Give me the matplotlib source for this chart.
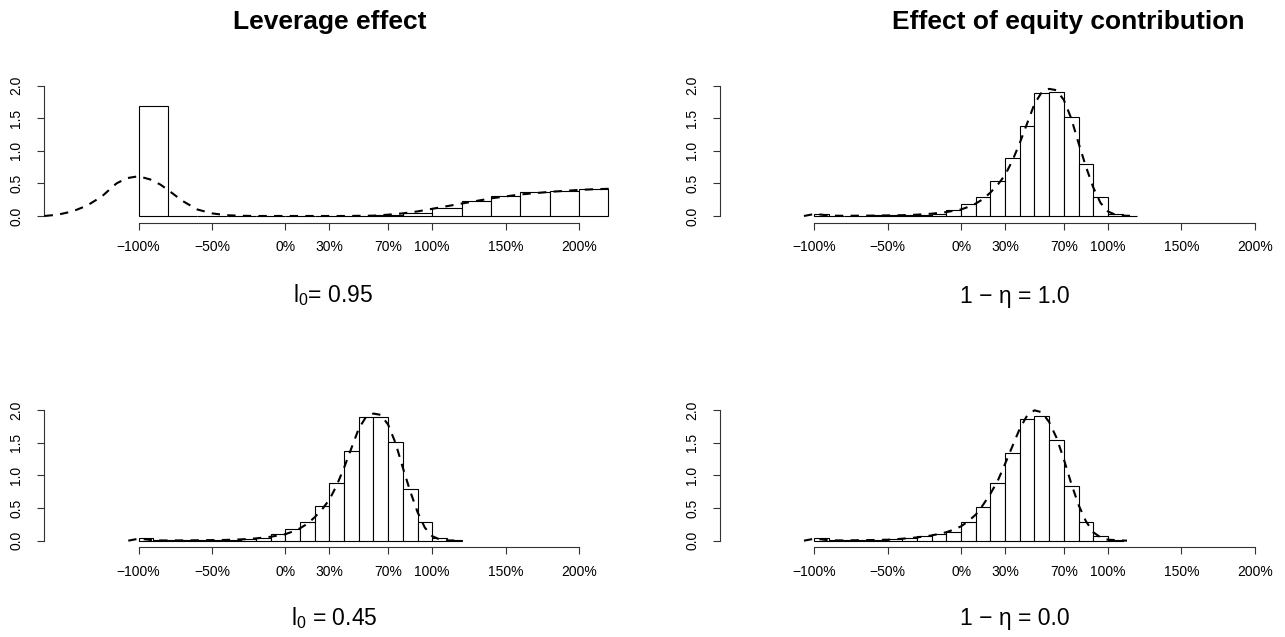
import numpy as np
import matplotlib
matplotlib.use('Agg')
import matplotlib.pyplot as plt

plt.rcParams['font.family'] = ['Liberation Sans', 'DejaVu Sans']
plt.rcParams['mathtext.fontset'] = 'custom'
plt.rcParams['mathtext.rm'] = 'Liberation Sans'
plt.rcParams['mathtext.it'] = 'Liberation Sans'

# histogram bin edges (return in %)
edges_20 = [-100, -80, -60, -40, -20, 0, 20, 40, 60, 80, 100, 120, 140, 160, 180, 200, 220]
edges_10 = [-100, -90, -80, -70, -60, -50, -40, -30, -20, -10, 0, 10, 20, 30, 40, 50,
            60, 70, 80, 90, 100, 110, 120]

# leverage l0 = 0.95
lev95_hist = [1.69, 0.0, 0.0, 0.0, 0.0, 0.0, 0.0, 0.003, 0.013, 0.04, 0.125, 0.235,
              0.31, 0.365, 0.378, 0.42]
lev95_dens_x = [-164, -155, -145, -135, -125, -115, -108, -100, -92, -85, -80, -70, -60,
                -50, -40, -30, -20, 0, 20, 40, 60, 70, 80, 90, 100, 110, 120, 130, 140,
                150, 160, 170, 180, 190, 200, 210, 225]
lev95_dens_y = [0.0, 0.02, 0.07, 0.16, 0.30, 0.50, 0.58, 0.61, 0.56, 0.48, 0.40, 0.23,
                0.10, 0.04, 0.012, 0.003, 0.0, 0.0, 0.0, 0.0, 0.005, 0.02, 0.04, 0.07,
                0.11, 0.15, 0.19, 0.23, 0.27, 0.30, 0.33, 0.35, 0.37, 0.385, 0.40, 0.41,
                0.42]

# leverage l0 = 0.45  /  equity 1-eta = 1.0
lev45_hist = [0.035, 0.003, 0.003, 0.005, 0.008, 0.01, 0.012, 0.02, 0.035, 0.095, 0.18,
              0.29, 0.535, 0.89, 1.38, 1.89, 1.90, 1.515, 0.795, 0.29, 0.035, 0.005]
lev45_dens_x = [-107, -100, -95, -90, -80, -60, -40, -30, -20, -10, 0, 5, 10, 15, 20, 25,
                30, 35, 40, 45, 50, 55, 60, 65, 70, 75, 80, 85, 90, 95, 100, 105, 110, 120]
lev45_dens_y = [0.0, 0.03, 0.02, 0.005, 0.003, 0.006, 0.012, 0.02, 0.035, 0.06, 0.10,
                0.14, 0.19, 0.26, 0.36, 0.48, 0.63, 0.85, 1.12, 1.42, 1.72, 1.90, 1.95,
                1.93, 1.78, 1.50, 1.12, 0.76, 0.44, 0.20, 0.07, 0.02, 0.005, 0.0]

eq10_hist = lev45_hist
eq10_dens_x = lev45_dens_x
eq10_dens_y = lev45_dens_y

# equity 1-eta = 0.0
eq00_hist = [0.035, 0.005, 0.005, 0.008, 0.015, 0.025, 0.04, 0.066, 0.11, 0.14, 0.286,
             0.51, 0.88, 1.34, 1.86, 1.92, 1.55, 0.84, 0.28, 0.066, 0.01]
eq00_dens_x = [-107, -100, -95, -90, -80, -60, -50, -40, -30, -20, -10, -5, 0, 5, 10, 15,
               20, 25, 30, 35, 40, 45, 50, 55, 60, 65, 70, 75, 80, 85, 90, 95, 100, 113]
eq00_dens_y = [0.0, 0.03, 0.02, 0.005, 0.004, 0.01, 0.015, 0.03, 0.05, 0.08, 0.13, 0.17,
               0.22, 0.30, 0.40, 0.55, 0.72, 0.92, 1.18, 1.45, 1.72, 1.92, 2.0, 1.97,
               1.82, 1.58, 1.25, 0.88, 0.55, 0.30, 0.13, 0.05, 0.015, 0.0]

xticks = [-100, -50, 0, 30, 70, 100, 150, 200]
xticklabels = [f'{t}%'.replace('-', '\u2212') for t in xticks]
yticks = [0.0, 0.5, 1.0, 1.5, 2.0]

W, H = 1285, 637
fig = plt.figure(figsize=(W / 100, H / 100), dpi=100)


def px_axes(x0, x1, ybot, ytop):
    return fig.add_axes([x0 / W, 1 - ybot / H, (x1 - x0) / W, (ybot - ytop) / H])


def panel(ax, edges, hist, dx, dy):
    e = np.array(edges[:len(hist) + 1], dtype=float)
    ax.bar(e[:-1], hist, width=np.diff(e), align='edge', facecolor='white',
           edgecolor='black', linewidth=0.8, zorder=2)
    ax.plot(dx, dy, color='black', linewidth=1.5, linestyle=(0, (4, 3.5)), zorder=3)
    ax.set_xlim(-164.4, 225.2)
    ax.set_ylim(-0.1, 2.6)
    for s in ['top', 'right']:
        ax.spines[s].set_visible(False)
    ax.spines['left'].set_bounds(0, 2)
    ax.spines['bottom'].set_bounds(-100, 200)
    for s in ['left', 'bottom']:
        ax.spines[s].set_linewidth(0.8)
        ax.spines[s].set_color('#333333')
    ax.set_xticks(xticks)
    ax.set_xticklabels(xticklabels)
    ax.set_yticks(yticks)
    ax.set_yticklabels([f'{v:.1f}' for v in yticks], rotation=90, va='center')
    ax.tick_params(axis='x', length=4.8, width=0.8, color='#333333', pad=8, labelsize=10)
    ax.tick_params(axis='y', length=4.8, width=0.8, color='#333333', pad=10, labelsize=10)


ax1 = px_axes(44, 616, 222.5, 46.5)
panel(ax1, edges_20, lev95_hist, lev95_dens_x, lev95_dens_y)
ax2 = px_axes(719.7, 1291.7, 222.5, 46.5)
panel(ax2, edges_10, eq10_hist, eq10_dens_x, eq10_dens_y)
ax3 = px_axes(44, 616, 547.2, 371.2)
panel(ax3, edges_10, lev45_hist, lev45_dens_x, lev45_dens_y)
ax4 = px_axes(719.7, 1291.7, 547.2, 371.2)
panel(ax4, edges_10, eq00_hist, eq00_dens_x, eq00_dens_y)

fig.text(330 / W, 1 - 28.5 / H, 'Leverage effect', ha='center', va='baseline',
         fontsize=19, fontweight='bold')
fig.text(1068 / W, 1 - 28.5 / H, 'Effect of equity contribution', ha='center',
         va='baseline', fontsize=19, fontweight='bold')

fig.text(333 / W, 1 - 302.5 / H, r'$\mathregular{l_0}$= 0.95', ha='center',
         va='baseline', fontsize=16.5)
fig.text(1015 / W, 1 - 302.5 / H, '1 \u2212 \u03b7 = 1.0', ha='center',
         va='baseline', fontsize=16.5)
fig.text(334 / W, 1 - 625 / H, r'$\mathregular{l_0}$ = 0.45', ha='center',
         va='baseline', fontsize=16.5)
fig.text(1015 / W, 1 - 625 / H, '1 \u2212 \u03b7 = 0.0', ha='center',
         va='baseline', fontsize=16.5)

fig.savefig('out.png', dpi=100)
